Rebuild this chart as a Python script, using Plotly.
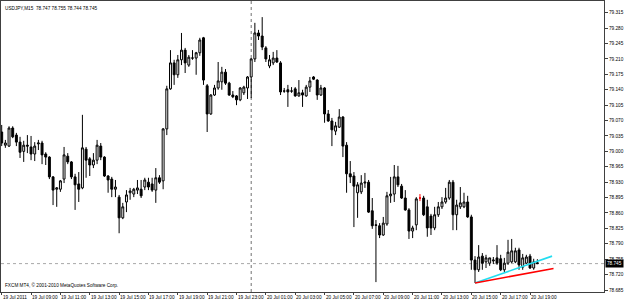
import plotly.graph_objects as go

symbol_header = "USDJPY,M15  78.747 78.755 78.744 78.745"
copyright_text = "FXCM MT4, \u00a9 2001-2010 MetaQuotes Software Corp."

opens = [
79.044, 79.014, 79.012, 79.053, 79.037, 79.021, 79.000, 79.014, 79.010, 78.994,
79.017, 79.019, 78.994, 78.987, 78.942, 78.914, 78.914, 78.937, 78.989, 78.976,
78.942, 78.926, 78.917, 79.005, 78.983, 78.969, 78.980, 79.012, 78.987, 78.944,
78.937, 78.914, 78.896, 78.849, 78.885, 78.906, 78.903, 78.912, 78.914, 78.919,
78.930, 78.926, 78.912, 78.940, 78.933, 79.051, 79.142, 79.201, 79.174, 79.208,
79.230, 79.196, 79.212, 79.212, 79.224, 79.258, 79.149, 79.085, 79.128, 79.144,
79.158, 79.180, 79.155, 79.128, 79.126, 79.117, 79.133, 79.144, 79.169, 79.210,
79.269, 79.262, 79.235, 79.194, 79.201, 79.212, 79.201, 79.137, 79.140, 79.137,
79.142, 79.126, 79.133, 79.126, 79.146, 79.169, 79.162, 79.128, 79.144, 79.085,
79.069, 79.046, 79.055, 79.078, 79.014, 78.949, 78.944, 78.906, 78.908, 78.928,
78.930, 78.865, 78.833, 78.831, 78.810, 78.835, 78.899, 78.903, 78.942, 78.921,
78.894, 78.867, 78.819, 78.833, 78.894, 78.894, 78.874, 78.853, 78.826, 78.856,
78.874, 78.885, 78.894, 78.930, 78.856, 78.874, 78.874, 78.885, 78.851, 78.753,
78.731, 78.762, 78.749, 78.746, 78.751, 78.758, 78.756, 78.731, 78.746, 78.749,
78.749, 78.776, 78.737, 78.746, 78.762, 78.735, 78.747]

highs = [
79.060, 79.026, 79.057, 79.057, 79.042, 79.033, 79.024, 79.037, 79.035, 79.021,
79.026, 79.024, 78.998, 78.989, 78.944, 78.919, 78.935, 79.010, 78.996, 78.978,
78.949, 78.953, 79.083, 79.010, 78.987, 78.996, 79.026, 79.019, 78.989, 78.946,
78.942, 78.935, 78.901, 78.883, 78.912, 78.917, 78.917, 78.935, 78.935, 78.940,
78.940, 78.940, 78.962, 78.946, 79.053, 79.149, 79.230, 79.208, 79.219, 79.269,
79.235, 79.219, 79.230, 79.226, 79.258, 79.260, 79.153, 79.130, 79.151, 79.203,
79.192, 79.187, 79.158, 79.137, 79.128, 79.146, 79.149, 79.171, 79.212, 79.292,
79.276, 79.305, 79.239, 79.219, 79.226, 79.230, 79.205, 79.144, 79.151, 79.146,
79.146, 79.162, 79.140, 79.151, 79.169, 79.171, 79.164, 79.151, 79.146, 79.094,
79.076, 79.067, 79.096, 79.080, 79.021, 78.978, 78.953, 78.930, 78.946, 78.951,
78.935, 78.894, 78.844, 78.837, 78.851, 78.908, 78.942, 78.969, 78.967, 78.926,
78.912, 78.871, 78.831, 78.896, 78.903, 78.899, 78.890, 78.858, 78.874, 78.885,
78.896, 78.917, 78.935, 78.935, 78.890, 78.919, 78.906, 78.899, 78.856, 78.762,
78.787, 78.769, 78.765, 78.758, 78.760, 78.787, 78.765, 78.758, 78.799, 78.801,
78.781, 78.781, 78.767, 78.765, 78.767, 78.756, 78.755]

lows = [
79.012, 79.008, 79.010, 79.030, 79.012, 78.985, 78.976, 78.996, 78.980, 78.978,
79.003, 78.971, 78.969, 78.937, 78.878, 78.874, 78.908, 78.928, 78.971, 78.937,
78.867, 78.885, 78.914, 78.940, 78.944, 78.962, 78.971, 78.980, 78.942, 78.906,
78.896, 78.896, 78.814, 78.846, 78.862, 78.890, 78.896, 78.903, 78.894, 78.912,
78.912, 78.908, 78.883, 78.926, 78.914, 79.037, 79.140, 79.151, 79.167, 79.196,
79.178, 79.192, 79.208, 79.174, 79.217, 79.151, 79.044, 79.083, 79.126, 79.140,
79.140, 79.151, 79.126, 79.121, 79.105, 79.114, 79.128, 79.119, 79.121, 79.203,
79.253, 79.230, 79.203, 79.189, 79.196, 79.201, 79.128, 79.133, 79.101, 79.133,
79.124, 79.124, 79.101, 79.124, 79.135, 79.162, 79.117, 79.126, 79.065, 79.067,
79.012, 79.037, 79.053, 78.987, 78.906, 78.928, 78.828, 78.849, 78.903, 78.917,
78.860, 78.824, 78.703, 78.803, 78.808, 78.831, 78.883, 78.885, 78.919, 78.892,
78.865, 78.801, 78.803, 78.821, 78.887, 78.853, 78.806, 78.810, 78.821, 78.851,
78.869, 78.881, 78.890, 78.821, 78.821, 78.869, 78.871, 78.849, 78.731, 78.701,
78.726, 78.731, 78.735, 78.740, 78.744, 78.742, 78.728, 78.726, 78.742, 78.746,
78.746, 78.731, 78.731, 78.744, 78.733, 78.731, 78.744]

closes = [
79.019, 79.019, 79.053, 79.033, 79.021, 78.998, 79.014, 79.012, 78.994, 79.012,
79.019, 78.992, 78.987, 78.942, 78.912, 78.917, 78.933, 78.992, 78.976, 78.942,
78.924, 78.914, 79.008, 78.980, 78.969, 78.980, 79.014, 78.987, 78.944, 78.935,
78.914, 78.919, 78.849, 78.874, 78.901, 78.910, 78.914, 78.917, 78.899, 78.935,
78.919, 78.912, 78.940, 78.930, 79.051, 79.142, 79.201, 79.174, 79.208, 79.230,
79.201, 79.214, 79.212, 79.224, 79.253, 79.162, 79.085, 79.128, 79.144, 79.160,
79.180, 79.155, 79.128, 79.124, 79.117, 79.144, 79.146, 79.169, 79.210, 79.269,
79.262, 79.237, 79.210, 79.208, 79.212, 79.203, 79.135, 79.137, 79.135, 79.137,
79.126, 79.133, 79.128, 79.146, 79.160, 79.164, 79.128, 79.144, 79.085, 79.069,
79.049, 79.058, 79.078, 79.012, 78.949, 78.942, 78.921, 78.924, 78.928, 78.930,
78.862, 78.831, 78.832, 78.810, 78.837, 78.899, 78.903, 78.942, 78.924, 78.894,
78.867, 78.819, 78.826, 78.892, 78.894, 78.856, 78.826, 78.826, 78.856, 78.874,
78.885, 78.894, 78.930, 78.856, 78.878, 78.883, 78.885, 78.851, 78.753, 78.731,
78.760, 78.746, 78.758, 78.758, 78.753, 78.746, 78.731, 78.746, 78.771, 78.774,
78.774, 78.742, 78.758, 78.760, 78.735, 78.749, 78.745]

# bar drawn in red (doji marker)
red_bars = [114]

# time axis labels (bar index of each label)
time_label_bars = [0, 8, 16, 24, 32, 40, 48, 56, 64, 72, 80, 88, 96, 104, 112, 120, 128, 136, 144]
time_labels = ["19 Jul 2011", "19 Jul 09:00", "19 Jul 11:00", "19 Jul 13:00", "19 Jul 15:00",
               "19 Jul 17:00", "19 Jul 19:00", "19 Jul 21:00", "19 Jul 23:00", "20 Jul 01:00",
               "20 Jul 03:00", "20 Jul 05:00", "20 Jul 07:00", "20 Jul 09:00", "20 Jul 11:00",
               "20 Jul 13:00", "20 Jul 15:00", "20 Jul 17:00", "20 Jul 19:00"]
day_separator_bar = 68

price_ticks = [78.685, 78.720, 78.755, 78.790, 78.825, 78.860, 78.895, 78.930, 78.965, 79.000,
               79.035, 79.070, 79.105, 79.140, 79.175, 79.210, 79.245, 79.280, 79.315]
bid_price = 78.745

# trend lines (bar index, price)
cyan_line_x = [129, 150]
cyan_line_y = [78.701, 78.762]
red_line_x = [129, 150.4]
red_line_y = [78.701, 78.734]

FONT = "Liberation Sans"
FS = 4.7

n = len(opens)
idx = list(range(n))
main_idx = [i for i in idx if i not in red_bars]

fig = go.Figure()
fig.add_trace(go.Candlestick(
    x=main_idx,
    open=[opens[i] for i in main_idx], high=[highs[i] for i in main_idx],
    low=[lows[i] for i in main_idx], close=[closes[i] for i in main_idx],
    increasing=dict(fillcolor="white", line=dict(color="black", width=1)),
    decreasing=dict(fillcolor="black", line=dict(color="black", width=1)),
    whiskerwidth=0, showlegend=False, hoverinfo="skip"))
fig.add_trace(go.Candlestick(
    x=red_bars,
    open=[opens[i] for i in red_bars], high=[highs[i] for i in red_bars],
    low=[lows[i] for i in red_bars], close=[closes[i] for i in red_bars],
    increasing=dict(fillcolor="red", line=dict(color="red", width=1)),
    decreasing=dict(fillcolor="red", line=dict(color="red", width=1)),
    whiskerwidth=0, showlegend=False, hoverinfo="skip"))

fig.add_trace(go.Scatter(x=cyan_line_x, y=cyan_line_y, mode="lines",
                         line=dict(color="#22ddf0", width=1.6), showlegend=False, hoverinfo="skip"))
fig.add_trace(go.Scatter(x=red_line_x, y=red_line_y, mode="lines",
                         line=dict(color="#ff0000", width=1.6), showlegend=False, hoverinfo="skip"))

# bid line
fig.add_shape(type="line", xref="paper", x0=0, x1=1, yref="y", y0=bid_price, y1=bid_price,
              line=dict(color="#a8a8a8", width=1, dash="dot"), layer="below")
# day separator
fig.add_shape(type="line", xref="x", x0=day_separator_bar, x1=day_separator_bar, yref="paper",
              y0=0, y1=1, line=dict(color="#707070", width=1, dash="dot"), layer="below")

annotations = []
for b, t in zip(time_label_bars, time_labels):
    annotations.append(dict(x=b, xref="x", y=0, yref="paper", yanchor="top", xanchor="left",
                            yshift=-1, xshift=-1, text=t, showarrow=False,
                            font=dict(family=FONT, size=FS, color="black")))
annotations.append(dict(x=0, xref="paper", y=1, yref="paper", xanchor="left", yanchor="top",
                        xshift=2, yshift=-3, text=symbol_header, showarrow=False,
                        font=dict(family=FONT, size=FS, color="black")))
annotations.append(dict(x=0, xref="paper", y=0, yref="paper", xanchor="left", yanchor="bottom",
                        xshift=2, yshift=2, text=copyright_text, showarrow=False,
                        font=dict(family=FONT, size=FS, color="black")))
annotations.append(dict(x=1, xref="paper", y=bid_price, yref="y", xanchor="left", yanchor="middle",
                        xshift=1, text="%.3f" % bid_price, showarrow=False, bgcolor="black",
                        borderpad=1, font=dict(family=FONT, size=FS, color="white")))

fig.update_layout(
    width=625, height=300,
    margin=dict(l=1, r=21, t=1, b=8),
    paper_bgcolor="white", plot_bgcolor="white",
    boxgap=0.25,
    showlegend=False,
    annotations=annotations,
    xaxis=dict(range=[-0.19, 164.16], showgrid=False, zeroline=False,
               showline=True, mirror=True, linecolor="#404040", linewidth=1,
               tickmode="array", tickvals=time_label_bars, ticks="outside", ticklen=2,
               tickcolor="#404040", showticklabels=False,
               rangeslider=dict(visible=False), fixedrange=True),
    yaxis=dict(range=[78.6805, 79.3416], side="right", showgrid=False, zeroline=False,
               showline=True, mirror=True, linecolor="#404040", linewidth=1,
               tickmode="array", tickvals=price_ticks,
               ticktext=["%.3f" % v for v in price_ticks],
               ticks="outside", ticklen=3, tickcolor="#404040",
               tickfont=dict(family=FONT, size=FS, color="black"), fixedrange=True),
)

fig.write_html("out.html")
